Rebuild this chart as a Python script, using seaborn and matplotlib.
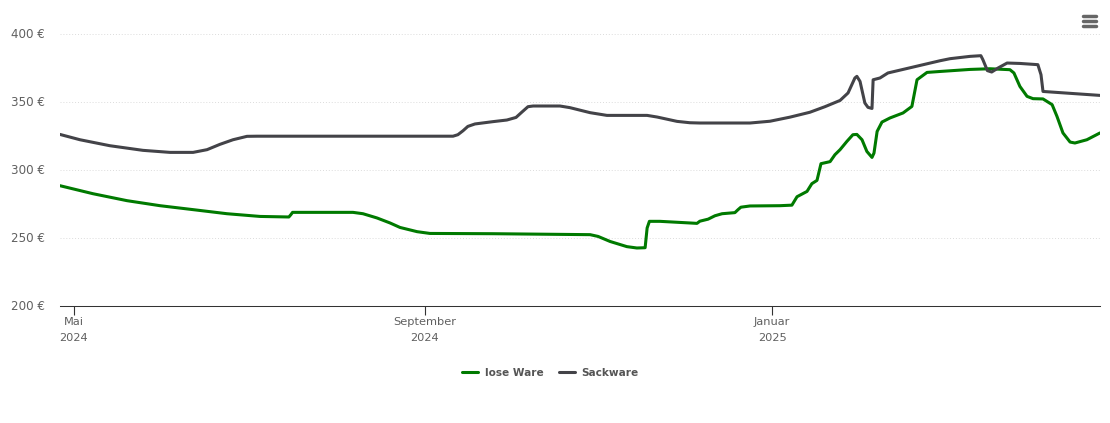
import matplotlib
matplotlib.use("Agg")
import matplotlib.pyplot as plt
import matplotlib.dates as mdates
from matplotlib.lines import Line2D
from matplotlib.transforms import ScaledTranslation
import pandas as pd
import seaborn as sns

START = pd.Timestamp("2024-05-01")

# days after 1 May 2024, price in euro
lose_days = [-4.9, 6.7, 18.6, 30.2, 41.8, 53.7, 65.3, 75.4, 76.1, 76.7, 97.9, 101.4, 106.3, 110.9, 114.4,
             120.4, 124.9, 147.0, 181.1, 183.9, 188.1, 194.0, 197.5, 200.4, 201.1, 201.9, 205.6, 216.1,
             218.6, 219.6, 222.5, 224.9, 227.4, 231.9, 233.0, 234.0, 237.2, 247.7, 251.9, 253.7, 257.2,
             258.9, 260.7, 262.1, 265.3, 267.0, 268.8, 271.2, 273.3, 274.7, 276.5, 278.2, 280.0, 280.7,
             281.8, 283.5, 286.3, 290.9, 294.0, 295.8, 299.3, 303.9, 314.4, 321.4, 328.4, 329.8, 331.9,
             334.4, 336.5, 340.0, 343.2, 344.9, 347.0, 349.5, 351.2, 355.4, 360.0]
lose_prices = [288.6, 282.7, 277.6, 273.9, 271.0, 268.0, 266.0, 265.6, 267.3, 269.0, 269.0, 268.0, 264.9, 261.2, 257.9,
               254.8, 253.5, 253.3, 252.6, 251.3, 247.6, 243.8, 242.8, 243.0, 257.5, 262.4, 262.4, 261.2,
               260.9, 262.5, 264.0, 266.5, 268.0, 268.8, 271.0, 272.8, 273.7, 273.9, 274.3, 280.5, 284.4,
               290.1, 292.5, 304.8, 306.3, 311.4, 315.1, 321.2, 326.1, 326.3, 322.4, 313.8, 309.4, 312.6,
               328.5, 335.4, 338.4, 342.1, 346.9, 366.5, 371.9, 372.6, 374.1, 374.6, 373.9, 371.5, 361.6,
               354.3, 352.6, 352.4, 348.2, 339.6, 327.4, 320.7, 320.0, 322.4, 327.4]

sack_days = [-4.9, 2.1, 12.6, 24.2, 33.7, 41.8, 46.7, 51.2, 55.8, 60.7, 64.2, 133.0, 134.7, 136.5, 138.2,
             140.7, 147.0, 151.9, 155.1, 157.2, 159.3, 161.1, 170.5, 174.0, 181.1, 187.0, 201.1, 204.6,
             211.6, 216.1, 219.6, 237.2, 244.2, 251.2, 258.2, 263.5, 268.8, 271.6, 274.0, 274.7, 275.8,
             277.5, 278.6, 280.0, 280.4, 282.8, 285.6, 303.9, 307.4, 314.4, 318.2, 318.9, 320.5, 322.0,
             324.2, 327.4, 331.9, 338.2, 339.3, 340.0, 360.0]
sack_prices = [326.3, 322.4, 318.0, 314.6, 313.1, 313.1, 315.1, 319.0, 322.4, 324.9, 325.0, 325.0, 326.1, 329.0, 332.2,
               334.0, 335.7, 336.9, 338.8, 342.8, 346.7, 347.2, 347.2, 346.0, 342.3, 340.3, 340.3, 339.1,
               335.9, 334.9, 334.7, 334.7, 336.0, 339.0, 342.6, 346.7, 351.3, 356.8, 367.8, 369.0, 365.3,
               349.4, 346.2, 345.4, 366.5, 367.8, 371.5, 380.5, 382.0, 383.7, 384.2, 381.3, 373.2, 372.2,
               375.1, 378.8, 378.5, 377.6, 370.2, 357.9, 355.0]

series_names = ["lose Ware", "Sackware"]
y_ticks = [200, 250, 300, 350, 400]
x_ticks = ["2024-05-01", "2024-09-01", "2025-01-01"]
x_labels = ["Mai\n2024", "September\n2024", "Januar\n2025"]

GREEN = "#007a00"
GREY = "#434348"
W, H = 1110, 423

df = pd.concat([
    pd.DataFrame({"day": lose_days, "price": lose_prices, "series": series_names[0]}),
    pd.DataFrame({"day": sack_days, "price": sack_prices, "series": series_names[1]}),
])
df["date"] = START + pd.to_timedelta(df["day"], unit="D")

sns.set_style("white")
plt.rcParams["font.family"] = ["DejaVu Sans"]

fig = plt.figure(figsize=(W / 100, H / 100), dpi=100)
ax = fig.add_axes([60 / W, 1 - 306.2 / H, 1040 / W, 272 / H])

sns.lineplot(data=df, x="date", y="price", hue="series", hue_order=series_names,
             palette=[GREEN, GREY], linewidth=2.2, sort=False, estimator=None,
             legend=False, ax=ax)
for line in ax.get_lines():
    line.set_solid_joinstyle("round")
    line.set_solid_capstyle("round")

ax.set_xlim(START + pd.Timedelta(days=-4.9), START + pd.Timedelta(days=360))
ax.set_ylim(200, 400)
ax.set_xlabel("")
ax.set_ylabel("")

ax.set_yticks(y_ticks)
ax.set_yticklabels([f"{v} €" for v in y_ticks], fontsize=8.6, color="#606060")
ax.tick_params(axis="y", length=0, pad=11.2)
# labels sit a little above their grid lines
for label in ax.get_yticklabels():
    label.set_transform(label.get_transform() + ScaledTranslation(0, 1.5 / 100, fig.dpi_scale_trans))

ax.set_xticks(mdates.date2num(pd.to_datetime(x_ticks)))
ax.set_xticklabels(x_labels, fontsize=8.2, color="#606060", linespacing=1.75)
ax.tick_params(axis="x", bottom=True, length=6.5, width=0.8, color="#333333", pad=1.5)

ax.grid(axis="y", color="#dcdcdc", linestyle=(0, (1, 2)), linewidth=0.7)
ax.grid(axis="x", visible=False)
ax.set_axisbelow(True)
sns.despine(ax=ax, left=True, top=True, right=True)
ax.spines["bottom"].set_color("#333333")
ax.spines["bottom"].set_linewidth(0.75)

handles = [Line2D([], [], color=GREEN, lw=2.2, solid_capstyle="round"),
           Line2D([], [], color=GREY, lw=2.2, solid_capstyle="round")]
fig.legend(handles, series_names, loc="center", bbox_to_anchor=(550.5 / W, 1 - 372.5 / H), ncol=2,
           frameon=False, handlelength=1.5, handletextpad=0.6, columnspacing=1.5,
           prop={"size": 7.6, "weight": "bold"}, labelcolor="#555555")

# menu icon top right
for y in [16, 21.5, 26.5]:
    fig.add_artist(Line2D([1082.5 / W, 1095.5 / W], [1 - y / H, 1 - y / H], color="#666666",
                          lw=2.5, solid_capstyle="round"))

fig.savefig("out.png", dpi=100)
